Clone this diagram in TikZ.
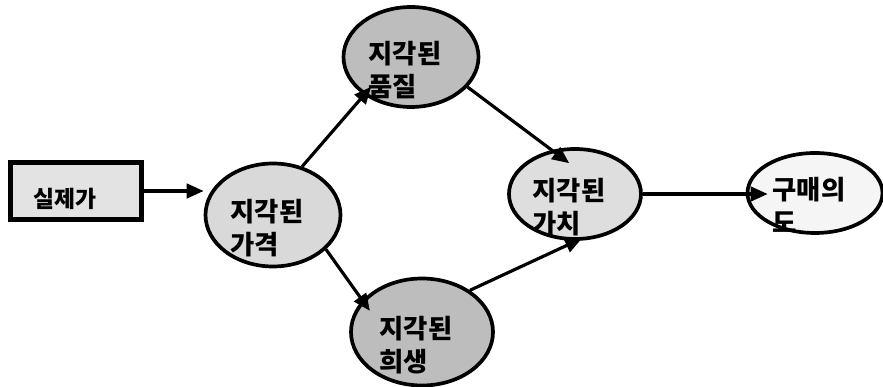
\documentclass[tikz,border=0pt]{standalone}
\usepackage{fontspec}
\newfontfamily\kr{Noto Sans CJK KR}
\usepackage{tikz}
\usetikzlibrary{shapes.geometric, arrows.meta, positioning}
\usepackage{xcolor}

\begin{document}
\begin{tikzpicture}[
    inbox/.style={rectangle, draw, line width=3.2pt, fill=gray!22, minimum width=2.62cm, minimum height=1.14cm, text width=1.72cm, align=left, text height=0.72cm, text depth=0.04cm, font=\kr\bfseries\fontsize{13}{15}\selectfont},
    construct/.style={ellipse, draw, line width=2.1pt, inner sep=0pt, text width=1.7cm, align=left, text height=0.47cm, text depth=0.21cm, font=\kr\bfseries\fontsize{15}{19}\selectfont},
    arrow/.style={-{Triangle[length=3.4mm, width=2.9mm]}, line width=1.8pt}
]
\useasboundingbox (0,0) rectangle (17.66,7.74);

% Input
\node[inbox] (actual) at (1.52,3.92) {실제가};

% Perceived constructs
\node[construct, fill=gray!30, minimum width=2.7cm, minimum height=2.06cm] (price) at (5.46,3.44) {지각된\\가격};
\node[construct, fill=gray!52, minimum width=2.7cm, minimum height=2.0cm] (quality) at (8.22,6.6) {지각된\\품질};
\node[construct, fill=gray!52, minimum width=2.84cm, minimum height=2.14cm] (sacrifice) at (8.44,1.1) {지각된\\희생};
\node[construct, fill=gray!26, minimum width=2.64cm, minimum height=1.8cm] (value) at (11.5,3.86) {지각된\\가치};

% Outcome
\node[construct, fill=gray!8, minimum width=2.7cm, minimum height=1.6cm] (intent) at (16.3,3.88) {구매의\\도};

% Arrows
\draw[arrow] (actual.east) -- (actual.east -| price.west);
\draw[arrow, shorten >=-2.2mm] (price.59) -- (quality.219);
\draw[arrow, shorten >=-2.6mm] (price.327) -- (sacrifice.152);
\draw[arrow, shorten >=-4.4mm] (quality.332) -- (value.118);
\draw[arrow, shorten >=-1.2mm] (sacrifice.41) -- (value.272);
\draw[arrow, shorten >=-4.4mm] (value.east) -- (value.east -| intent.west);

\end{tikzpicture}
\end{document}
